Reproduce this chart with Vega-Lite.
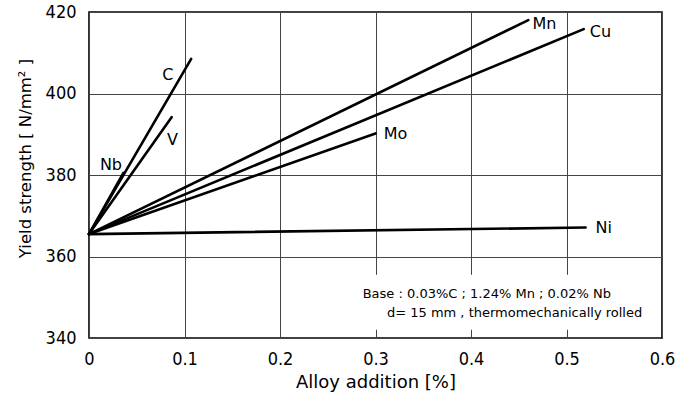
{
  "$schema": "https://vega.github.io/schema/vega-lite/v6.json",
  "width": 573,
  "height": 326,
  "autosize": {"type": "none"},
  "padding": {"left": 89, "top": 12, "right": 14, "bottom": 56},
  "background": "white",
  "config": {
    "font": "DejaVu Sans",
    "view": {"stroke": "black", "strokeWidth": 1.6},
    "axis": {
      "domain": false,
      "ticks": false,
      "grid": true,
      "gridColor": "#444",
      "gridWidth": 1,
      "labelColor": "black",
      "titleColor": "black",
      "labelFont": "DejaVu Sans Condensed",
      "titleFont": "DejaVu Sans",
      "labelFontSize": 18,
      "titleFontWeight": "normal"
    }
  },
  "datasets": {
    "lines": [
      {"alloy": "C", "pct": 0, "ys": 365.5},
      {"alloy": "C", "pct": 0.107, "ys": 408.5},
      {"alloy": "V", "pct": 0, "ys": 365.5},
      {"alloy": "V", "pct": 0.0865, "ys": 394.2},
      {"alloy": "Nb", "pct": 0, "ys": 365.5},
      {"alloy": "Nb", "pct": 0.036, "ys": 380.5},
      {"alloy": "Mn", "pct": 0, "ys": 365.5},
      {"alloy": "Mn", "pct": 0.46, "ys": 418},
      {"alloy": "Cu", "pct": 0, "ys": 365.5},
      {"alloy": "Cu", "pct": 0.518, "ys": 415.8},
      {"alloy": "Mo", "pct": 0, "ys": 365.5},
      {"alloy": "Mo", "pct": 0.3, "ys": 390.2},
      {"alloy": "Ni", "pct": 0, "ys": 365.5},
      {"alloy": "Ni", "pct": 0.52, "ys": 367.1}
    ],
    "labels": [
      {"alloy": "C", "pct": 0.0826, "ys": 404.5},
      {"alloy": "V", "pct": 0.0873, "ys": 388.6},
      {"alloy": "Nb", "pct": 0.023, "ys": 382.5},
      {"alloy": "Mn", "pct": 0.477, "ys": 417},
      {"alloy": "Cu", "pct": 0.5356, "ys": 415.1},
      {"alloy": "Mo", "pct": 0.321, "ys": 390},
      {"alloy": "Ni", "pct": 0.539, "ys": 367}
    ],
    "notes": [
      {"text": "Base : 0.03%C ; 1.24% Mn ; 0.02% Nb", "pct": 0.2866, "ys": 350.8},
      {"text": "d= 15 mm , thermomechanically rolled", "pct": 0.312, "ys": 346.1}
    ],
    "notebox": [
      {"x0": 0.28, "x1": 0.58, "y0": 342, "y1": 355.5}
    ]
  },
  "layer": [
    {
      "data": {"name": "notebox"},
      "mark": {"type": "rect", "fill": "white", "stroke": null},
      "encoding": {
        "x": {
          "field": "x0", "type": "quantitative",
          "scale": {"domain": [0, 0.6], "nice": false, "zero": false},
          "axis": {
            "values": [0, 0.1, 0.2, 0.3, 0.4, 0.5, 0.6],
            "format": "~g",
            "labelPadding": 12,
            "labelFlush": false,
            "title": "Alloy addition [%]",
            "titleFontSize": 18,
            "titlePadding": 5
          }
        },
        "x2": {"field": "x1"},
        "y": {
          "field": "y0", "type": "quantitative",
          "scale": {"domain": [340, 420], "nice": false, "zero": false},
          "axis": {
            "values": [340, 360, 380, 400, 420],
            "labelPadding": 13,
            "labelFlush": false,
            "title": "Yield strength [ N/mm² ]",
            "titleFontSize": 16.5,
            "titlePadding": 12,
            "titleY": 146
          }
        },
        "y2": {"field": "y1"}
      }
    },
    {
      "data": {"name": "lines"},
      "mark": {"type": "line", "color": "black", "strokeWidth": 2.6, "strokeCap": "round"},
      "encoding": {
        "x": {"field": "pct", "type": "quantitative"},
        "y": {"field": "ys", "type": "quantitative"},
        "detail": {"field": "alloy"}
      }
    },
    {
      "data": {"name": "labels"},
      "mark": {"type": "text", "fontSize": 16, "align": "center", "baseline": "middle", "color": "black"},
      "encoding": {
        "x": {"field": "pct", "type": "quantitative"},
        "y": {"field": "ys", "type": "quantitative"},
        "text": {"field": "alloy"}
      }
    },
    {
      "data": {"name": "notes"},
      "mark": {"type": "text", "fontSize": 13, "align": "left", "baseline": "middle", "color": "black"},
      "encoding": {
        "x": {"field": "pct", "type": "quantitative"},
        "y": {"field": "ys", "type": "quantitative"},
        "text": {"field": "text"}
      }
    }
  ]
}
